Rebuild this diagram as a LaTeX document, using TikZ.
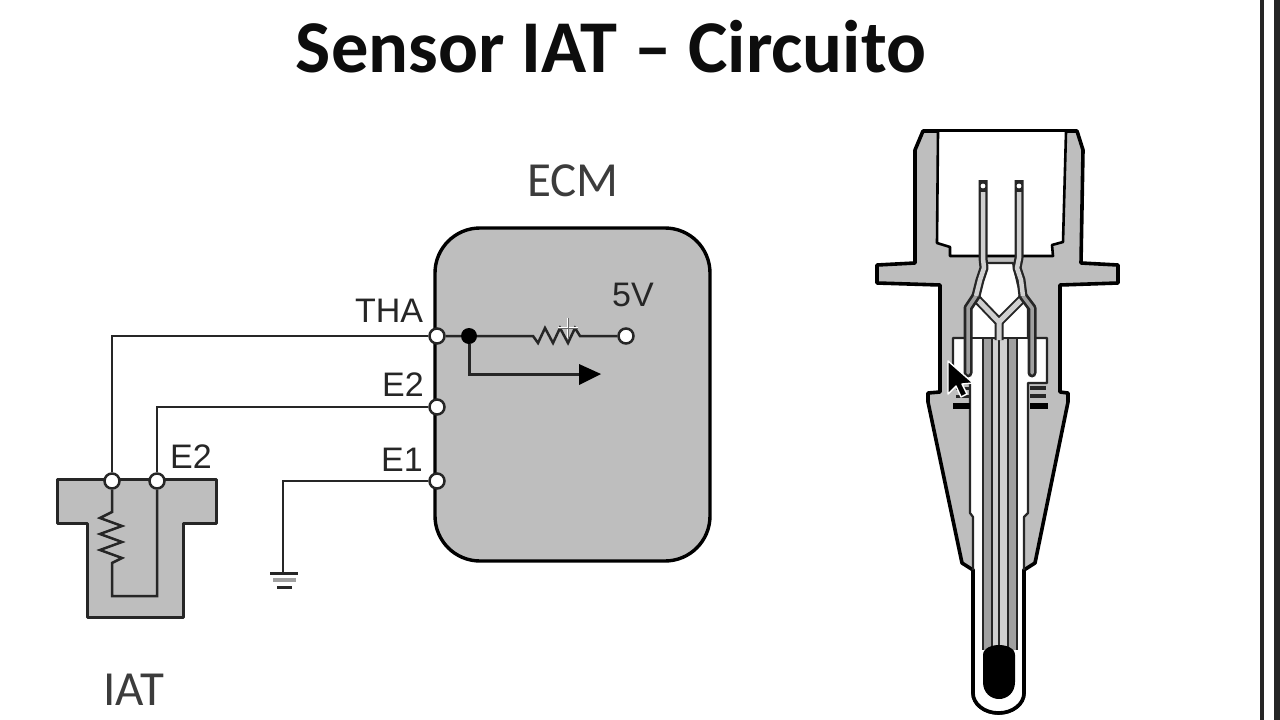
\documentclass[tikz,border=0pt]{standalone}
\usepackage{fontspec}
\setmainfont{Carlito}
\newfontfamily\lab{Liberation Sans}
\definecolor{bodygray}{HTML}{BEBEBE}
\definecolor{ink}{HTML}{262626}
\definecolor{stripe}{HTML}{A0A0A0}
\definecolor{lightstripe}{HTML}{D0D0D0}
\tikzset{
  wire/.style={draw=ink,line width=2.5pt,line join=miter},
  term/.style={circle,draw=ink,fill=white,line width=2.5pt,minimum size=15pt,inner sep=0pt},
  dot/.style={circle,fill=black,minimum size=16pt,inner sep=0pt},
  sig/.style={text=ink,inner sep=0pt,font=\lab\fontsize{34}{34}\selectfont},
  big/.style={text=ink!90,inner sep=0pt,font=\fontsize{49}{49}\selectfont},
  bodyline/.style={draw=black,line width=3.6pt,line join=round},
  thinline/.style={draw=ink,line width=2.2pt,line join=round},
}
\begin{document}
\begin{tikzpicture}[x=1pt,y=-1pt]
\useasboundingbox (0,0) rectangle (1280,720);
\fill[white] (0,0) rectangle (1280,720);
\draw[black!85,line width=4.5pt] (1262,0) -- (1262,720);
\fill[black!85] (1274,0) rectangle (1280,720);
\node[inner sep=0pt,text=black!95] (title) at (611,47) {\fontsize{74.5}{74.5}\selectfont\bfseries Sensor IAT – Circuito};
% ECM
\node[big] (ecmlabel) at (573,181) {ECM};
\node[draw=black,line width=3.4pt,fill=bodygray,rounded corners=45pt,minimum width=275pt,minimum height=333pt,inner sep=0pt] (ecm) at (572.5,394.5) {};
% IAT body
\draw[bodyline,fill=bodygray,line width=3pt,draw=ink] (57,479) -- (216,479) -- (216,523) -- (183,523) -- (183,617) -- (87,617) -- (87,523) -- (57,523) -- cycle;
\coordinate (c1) at (283,572);
\coordinate (g1) at (270,573);
\coordinate (g2) at (298,573);
\coordinate (g3) at (273,580);
\coordinate (g4) at (296,580);
\coordinate (g5) at (277,587);
\coordinate (g6) at (292,587);
% terminals
\node[term] (tha) at (437,336) {};
\node[term] (etwo) at (437,407) {};
\node[term] (eone) at (437,481) {};
\node[term] (sa) at (112,481) {};
\node[term] (sb) at (157,481) {};
\node[term] (five) at (626,336) {};
\node[dot] (junc) at (469,336) {};
\coordinate (resL) at (533,336);
\coordinate (resR) at (580,336);
\coordinate (arrowbase) at (580,374);
\coordinate (sres1) at (112,512);
\coordinate (sres2) at (112,563);
% wires
\draw[wire] (tha) -- (tha -| sa) -- (sa);
\draw[wire] (etwo) -- (etwo -| sb) -- (sb);
\draw[wire] (eone) -- (eone -| c1) -- (c1);
\draw[wire,line width=3pt] (g1) -- (g2);
\draw[draw=stripe,line width=4pt] (g3) -- (g4);
\draw[wire,line width=3pt] (g5) -- (g6);
\draw[wire] (tha) -- (junc) -- (resL)
  -- ++(5,7) -- ++(7,-15) -- ++(8,15) -- ++(7,-15) -- ++(8,15) -- ++(7,-15) -- (resR) -- (five);
\draw[wire,line width=3pt] (junc) |- (arrowbase);
\fill[black] (579,364) -- (601,374) -- (579,385) -- cycle;
\draw[wire] (sa) -- (sres1) -- ++(-12,6) -- ++(22,8) -- ++(-22,8) -- ++(22,8) -- ++(-22,8) -- ++(22,8) -- (sres2)
  -- (112,596) -- (157,596) -- (sb);
% labels
\node[sig] (lt) at (389,311) {THA};
\node[sig] (l2) at (403,385) {E2};
\node[sig] (l1) at (402,460) {E1};
\node[sig] (l3) at (191,457) {E2};
\node[sig] (l5) at (633,295) {5V};
\node[big] (liat) at (134,690) {IAT};
% sensor body
\draw[bodyline,fill=bodygray] (923,131) -- (1077,131) -- (1083,150) -- (1081,263) -- (1118,265) -- (1118,283) -- (1060,285) -- (1060,392) -- (1068,393) -- (1068,402) -- (1035,563) -- (1024,570) -- (1024,693)
  arc[start angle=0,end angle=180,x radius=25.5,y radius=20] -- (973,570) -- (962,563) -- (928,402) -- (928,393) -- (940,392) -- (940,285) -- (877,283) -- (877,265) -- (915,263) -- (915,150) -- cycle;
% socket
\draw[bodyline,fill=white,line width=2.6pt] (938,132) -- (937,243) -- (950,247) -- (950,256) -- (1053,256) -- (1052,245) -- (1063,242) -- (1066,132);
% inner cavity
\draw[thinline,fill=white] (987,263) -- (1013,263) -- (1018,285) -- (1028,307) -- (1028,338) -- (1047,338) -- (1047,383) -- (1028,383) -- (1028,513) -- (1024,517) -- (1024,570) -- (973,570) -- (973,517) -- (970,513) -- (970,383) -- (953,383) -- (953,338) -- (971,338) -- (971,307) -- (980,285) -- cycle;
% retaining clips
\foreach \yy in {388,396}{
  \fill[ink] (1030,\yy-2) rectangle (1046,\yy+2);
  \fill[ink] (956,\yy-1.5) rectangle (970,\yy+1.5);
}
\fill[black] (953,403) rectangle (970,409);
\fill[black] (1030,403) rectangle (1048,409);
% tube
\fill[white] (975,560) rectangle (1022,693);
\draw[bodyline,fill=white,line width=3.6pt] (973,570) -- (973,693) arc[start angle=180,end angle=0,x radius=25.5,y radius=20] -- (1024,570);
% stripes
\fill[stripe] (983,338) rectangle (992,650);
\fill[stripe] (1008,338) rectangle (1017,650);
\fill[lightstripe] (992,338) rectangle (1008,650);
\foreach \xx in {983,992,999,1008,1017}{\draw[thinline] (\xx,338) -- (\xx,650);}
\draw[thinline] (970,338) -- (1028,338);
% Y leads
\draw[draw=ink,line width=9pt,line join=round] (999,340) -- (999,322) -- (976,298);
\draw[draw=ink,line width=9pt,line join=round] (999,322) -- (1023,298);
\draw[draw=lightstripe,line width=5pt,line join=round] (999,340) -- (999,322) -- (976,298);
\draw[draw=lightstripe,line width=5pt,line join=round] (999,322) -- (1023,298);
% sleeves
\draw[draw=ink,line width=9pt,line cap=round,line join=round] (976,296) -- (968,308) -- (968,373);
\draw[draw=ink,line width=9pt,line cap=round,line join=round] (1023,296) -- (1032,308) -- (1032,373);
\draw[draw=stripe,line width=3.5pt,line cap=round,line join=round] (976,296) -- (968,308) -- (968,373);
\draw[draw=stripe,line width=3.5pt,line cap=round,line join=round] (1023,296) -- (1032,308) -- (1032,373);
% pins
\draw[draw=ink,line width=9pt,line join=round] (983,180) -- (983,258) -- (984,268) -- (980,280) -- (976,296);
\draw[draw=ink,line width=9pt,line join=round] (1019,180) -- (1019,258) -- (1017,268) -- (1021,280) -- (1023,296);
\draw[draw=lightstripe,line width=4.5pt,line join=round] (983,192) -- (983,258) -- (984,268) -- (980,280) -- (976,296);
\draw[draw=lightstripe,line width=4.5pt,line join=round] (1019,192) -- (1019,258) -- (1017,268) -- (1021,280) -- (1023,296);
\fill[white] (983,186) circle (2.4pt) (1019,186) circle (2.4pt);
% thermistor
\fill[black] (983,655) .. controls (983,648) and (992,645) .. (999,645) .. controls (1006,645) and (1015,648) .. (1015,655) -- (1015,682) .. controls (1015,693) and (1007,699) .. (999,699) .. controls (991,699) and (983,693) .. (983,682) -- cycle;
% screen cursors
\draw[white,fill=black,line width=1.4pt,line join=round] (948,361) -- (948,394) -- (956,386) -- (961,397) -- (967,394) -- (962,384) -- (973,383) -- cycle;
\draw[draw=white,line width=2.8pt] (558,328) -- (578,328) (568,318) -- (568,338);
\draw[draw=ink!70,line width=0.9pt] (558,328) -- (578,328) (568,318) -- (568,338);
\end{tikzpicture}
\end{document}
